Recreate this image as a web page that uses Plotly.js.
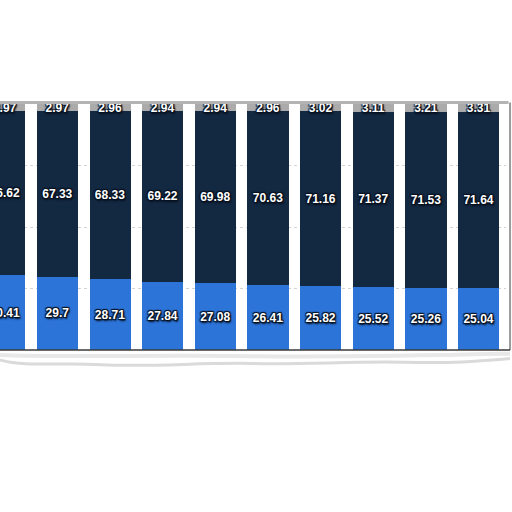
<!DOCTYPE html>
<html>
<head>
<meta charset="utf-8">
<script src="https://cdn.plot.ly/plotly-3.0.1.min.js"></script>
<style>
  html, body { margin: 0; padding: 0; background: #ffffff; }
  #chart { width: 512px; height: 512px; }
</style>
</head>
<body>
<div id="chart"></div>
<script>
var categories = ['1', '2', '3', '4', '5', '6', '7', '8', '9', '10'];
var blueVals = [30.41, 29.7, 28.71, 27.84, 27.08, 26.41, 25.82, 25.52, 25.26, 25.04];
var navyVals = [66.62, 67.33, 68.33, 69.22, 69.98, 70.63, 71.16, 71.37, 71.53, 71.64];
var grayVals = [2.97, 2.97, 2.96, 2.94, 2.94, 2.96, 3.02, 3.11, 3.21, 3.31];

var labelFont = {
    family: 'Liberation Sans, Arial, sans-serif',
    size: 12,
    weight: 'bold',
    color: '#ffffff',
    shadow: '1px 1px 1px #08111f, -1px -1px 1px #08111f, 1px -1px 1px #08111f, -1px 1px 1px #08111f, 1px 2px 2px #08111f'
};

function series(vals, color) {
    return {
        x: categories,
        y: vals,
        type: 'bar',
        marker: { color: color, line: { width: 0 } },
        text: vals.map(String),
        textposition: 'inside',
        insidetextanchor: 'middle',
        constraintext: 'none',
        textfont: labelFont,
        hoverinfo: 'none'
    };
}

var data = [
    series(blueVals, '#2c74d8'),
    series(navyVals, '#132841'),
    series(grayVals, '#ababab')
];

var layout = {
    width: 512,
    height: 512,
    barmode: 'stack',
    bargap: 0.22,
    showlegend: false,
    paper_bgcolor: '#ffffff',
    plot_bgcolor: '#ffffff',
    margin: { l: 0, r: 6, t: 104, b: 162 },
    xaxis: {
        type: 'category',
        range: [-0.09, 9.52],
        showticklabels: false,
        showgrid: false,
        zeroline: false,
        ticks: '',
        fixedrange: true
    },
    yaxis: {
        range: [0, 100],
        dtick: 25,
        showticklabels: false,
        showgrid: true,
        gridcolor: '#d4d4d4',
        griddash: 'dot',
        gridwidth: 1,
        zeroline: false,
        ticks: '',
        fixedrange: true
    },
    shapes: [
        // grey top edge of the frame
        { type: 'line', xref: 'paper', yref: 'paper', x0: 0, x1: 1.005, y0: 1.006, y1: 1.006,
          line: { color: '#b4b4b4', width: 3 }, layer: 'below' },
        // right edge
        { type: 'line', xref: 'paper', yref: 'paper', x0: 1.008, x1: 1.008, y0: 0, y1: 1.006,
          line: { color: '#9a9a9a', width: 2 } },
        // dark bottom line
        { type: 'line', xref: 'paper', yref: 'paper', x0: 0, x1: 1.008, y0: 0, y1: 0,
          line: { color: '#3a3a3a', width: 1.5 } },
        // torn paper shadow under the frame
        { type: 'path', xref: 'paper', yref: 'paper',
          path: 'M 0,-0.04 C 0.05,-0.07 0.12,-0.05 0.2,-0.06 C 0.3,-0.07 0.4,-0.05 0.5,-0.055 ' +
                'C 0.6,-0.06 0.7,-0.045 0.8,-0.05 C 0.9,-0.055 0.95,-0.045 1.008,-0.035',
          line: { color: '#dadada', width: 3 } },
        { type: 'path', xref: 'paper', yref: 'paper',
          path: 'M 0,-0.02 C 0.1,-0.03 0.3,-0.02 0.5,-0.025 C 0.7,-0.03 0.9,-0.02 1.008,-0.015',
          line: { color: '#e8e8e8', width: 4 } }
    ]
};

var config = { responsive: false, displayModeBar: false, staticPlot: true };

Plotly.newPlot('chart', data, layout, config);
</script>
</body>
</html>
